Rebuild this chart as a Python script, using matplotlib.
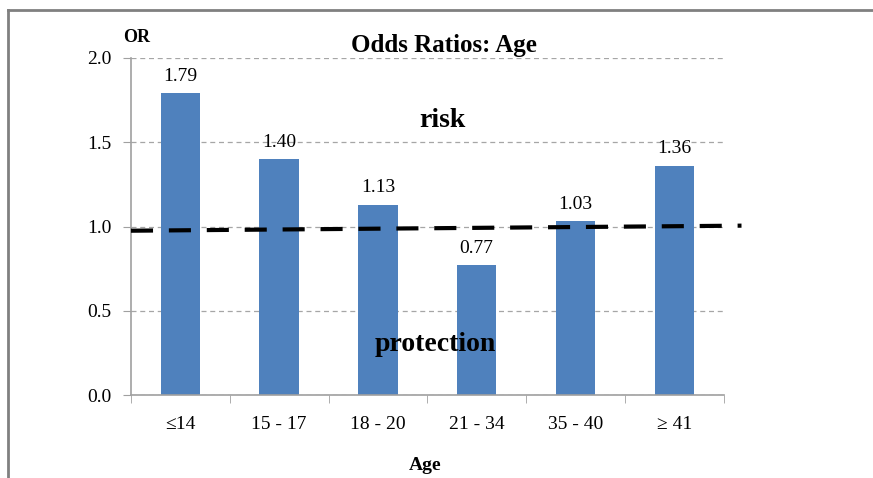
import matplotlib.pyplot as plt
from matplotlib.lines import Line2D

# data
age_groups = ['\u226414', '15 - 17', '18 - 20', '21 - 34', '35 - 40', '\u2265 41']
odds_ratios = [1.79, 1.40, 1.13, 0.77, 1.03, 1.36]
ref_line_x = [-0.5, 5.68]
ref_line_y = [0.975, 1.005]

plt.rcParams['font.family'] = ['Liberation Serif', 'DejaVu Serif']

fig = plt.figure(figsize=(8.73, 4.78), dpi=100)
ax = fig.add_axes([0.150, 0.1736, 0.679, 0.7051])

x = list(range(len(age_groups)))
ax.bar(x, odds_ratios, width=0.4, color='#4F81BD', zorder=2)
for xi, v in zip(x, odds_ratios):
    ax.text(xi, v + 0.05, f'{v:.2f}', ha='center', va='bottom', fontsize=14)

ax.set_xlim(-0.5, len(age_groups) - 0.5)
ax.set_ylim(0, 2.0)
ax.set_yticks([0, 0.5, 1.0, 1.5, 2.0])
ax.set_yticklabels(['0.0', '0.5', '1.0', '1.5', '2.0'], fontsize=14)
ax.set_xticks(x)
ax.set_xticklabels(age_groups, fontsize=14)
ax.set_xticks([i - 0.5 for i in range(len(age_groups) + 1)], minor=True)
ax.tick_params(axis='x', which='major', length=0, pad=15)
ax.tick_params(axis='x', which='minor', length=6, color='#A0A0A0', direction='out')
ax.tick_params(axis='y', length=6, color='#A0A0A0', direction='out', pad=8)

ax.grid(axis='y', linestyle=(0, (4, 3)), color='#A6A6A6', linewidth=0.9, zorder=0)
ax.set_axisbelow(True)
for s in ['top', 'right']:
    ax.spines[s].set_visible(False)
for s in ['left', 'bottom']:
    ax.spines[s].set_color('#A0A0A0')
    ax.spines[s].set_linewidth(1.2)

# dashed reference line (OR = 1) drawn past the plot area
ax.plot(ref_line_x, ref_line_y, color='black', linewidth=3,
        linestyle=(0, (5.3, 3.8)), clip_on=False, zorder=3)

ax.text(2.65, 1.63, 'risk', ha='center', va='center', fontsize=20, fontweight='bold')
ax.text(2.58, 0.3, 'protection', ha='center', va='center', fontsize=20, fontweight='bold')

fig.text(0.508, 0.905, 'Odds Ratios: Age', ha='center', va='center', fontsize=18, fontweight='bold')
fig.text(0.157, 0.921, 'OR', ha='center', va='center', fontsize=13, fontweight='bold')
fig.text(0.487, 0.027, 'Age', ha='center', va='center', fontsize=14, fontweight='bold')

# outer frame lines (top and left)
fig.add_artist(Line2D([0.009, 1.0], [0.979, 0.979], color='#808080', linewidth=2, transform=fig.transFigure))
fig.add_artist(Line2D([0.009, 0.009], [0.0, 0.979], color='#808080', linewidth=2, transform=fig.transFigure))

fig.savefig('out.png', dpi=100)
